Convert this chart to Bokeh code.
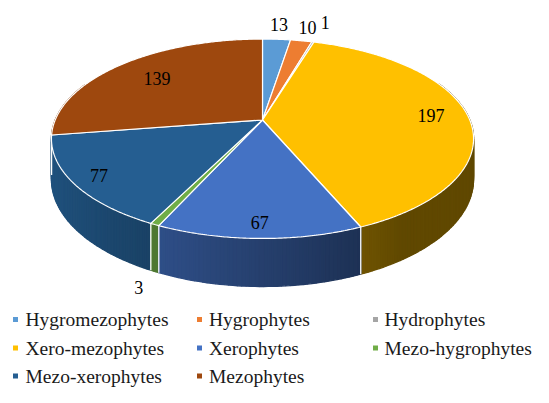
import numpy as np
from bokeh.plotting import figure
from bokeh.models import Range1d
from bokeh.embed import file_html
from bokeh.resources import INLINE
from bokeh.core.properties import value

# ---------------- data ----------------
categories = ["Hygromezophytes", "Hygrophytes", "Hydrophytes", "Xero-mezophytes",
              "Xerophytes", "Mezo-hygrophytes", "Mezo-xerophytes", "Mezophytes"]
counts = [13, 10, 1, 197, 67, 3, 77, 139]
colors = ["#5B9BD5", "#ED7D31", "#A5A5A5", "#FFC000",
          "#4472C4", "#70AD47", "#255E91", "#9E480E"]

# ---------------- style / geometry (screen px, y grows downward) ----------------
W, H = 533, 387
CX, CY = 262.0, 119.5
RX, RY = 207.3, 96.2
K = 0.188
H0 = 39.0
label_r = [1.22, 1.2, 1.3, 0.82, 0.89, 1.12, 0.88, 0.73]
FONT = value("Liberation Serif")


def proj(theta_deg, r=1.0):
    t = np.radians(theta_deg)
    u = r * np.sin(t)
    v = -r * np.cos(t)
    den = 1 - K * v
    return CX + RX * u / den, CY + RY * v / den


def thick(theta_deg):
    v = -np.cos(np.radians(theta_deg))
    return H0 / (1 - K * v)


def shade(hexcol, f):
    r = int(hexcol[1:3], 16); g = int(hexcol[3:5], 16); b = int(hexcol[5:7], 16)
    return "#%02x%02x%02x" % (int(r * f), int(g * f), int(b * f))


def side_factor(theta_deg):
    s = -np.sin(np.radians(theta_deg))
    return float(np.clip(0.56 + 0.32 * s, 0.38, 0.9))


total = float(sum(counts))
edges = np.concatenate([[0.0], np.cumsum(counts) / total * 360.0])

p = figure(width=W, height=H, output_backend="svg", toolbar_location=None,
           x_range=Range1d(0, W), y_range=Range1d(H, 0), min_border=0)
p.axis.visible = False
p.grid.visible = False
p.outline_line_color = None
p.background_fill_color = "white"
p.border_fill_color = "white"

# ---------------- side (rim) strips ----------------
strips = []
for i, c in enumerate(colors):
    a0, a1 = edges[i], edges[i + 1]
    n = max(1, int(np.ceil((a1 - a0) / 1.0)))
    th = np.linspace(a0, a1, n + 1)
    for j in range(n):
        tA, tB = th[j], th[j + 1]
        tm = 0.5 * (tA + tB)
        vm = -np.cos(np.radians(tm))
        if vm < -0.4:
            continue
        xA, yA = proj(tA); xB, yB = proj(tB)
        xs = [xA, xB, xB, xA]
        ys = [yA, yB, yB + thick(tB), yA + thick(tA)]
        strips.append((vm, xs, ys, shade(c, side_factor(tm))))
strips.sort(key=lambda s: s[0])
p.patches([s[1] for s in strips], [s[2] for s in strips],
          fill_color=[s[3] for s in strips], line_color=[s[3] for s in strips],
          line_width=1.3)

# white separators on visible rim
sx0, sy0, sx1, sy1 = [], [], [], []
for a in edges[:-1]:
    if -np.cos(np.radians(a)) > 0.0:
        x, y = proj(a)
        sx0.append(x); sy0.append(y); sx1.append(x); sy1.append(y + thick(a))
p.segment(sx0, sy0, sx1, sy1, line_color="white", line_width=1.3)

# ---------------- top faces ----------------
txs, tys = [], []
for i in range(len(counts)):
    a0, a1 = edges[i], edges[i + 1]
    n = max(2, int((a1 - a0) / 0.5) + 2)
    th = np.linspace(a0, a1, n)
    X, Y = proj(th)
    txs.append([CX] + list(X))
    tys.append([CY] + list(Y))
p.patches(txs, tys, fill_color=colors, line_color="white", line_width=1.2)

# ---------------- data labels ----------------
lx, ly = [], []
for i in range(len(counts)):
    mid = 0.5 * (edges[i] + edges[i + 1])
    r = label_r[i]
    x, y = proj(mid, r)
    if r > 1 and -np.cos(np.radians(mid)) > 0:
        y = y + thick(mid) + 1
    lx.append(x); ly.append(y)
p.text(lx, ly, text=[str(c) for c in counts], text_font=FONT, text_font_size="18px",
       text_align="center", text_baseline="middle", text_color="#000000")

# ---------------- legend ----------------
col_sq = [15, 199, 375]
col_tx = [25, 208.5, 384]
row_y = [319, 347.5, 375.5]
qx, qy, qx_t, qy_t = [], [], [], []
for i, name in enumerate(categories):
    r, c = divmod(i, 3)
    qx.append(col_sq[c]); qy.append(row_y[r])
    qx_t.append(col_tx[c]); qy_t.append(row_y[r])
p.scatter(qx, qy, marker="square", size=5, fill_color=colors, line_color=None)
p.text(qx_t, qy_t, text=categories, text_font=FONT, text_font_size="19.5px",
       text_align="left", text_baseline="middle", text_color="#1a1a1a")

open("out.html", "w").write(file_html(p, INLINE))
